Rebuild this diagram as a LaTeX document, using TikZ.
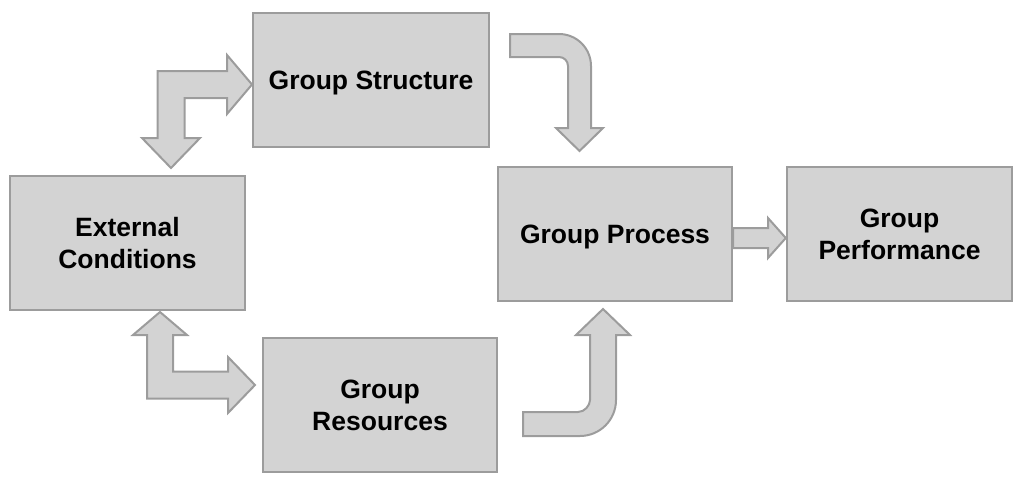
\documentclass[tikz,border=0pt]{standalone}
\usepackage{fontspec}
\setmainfont{Liberation Sans}
\usetikzlibrary{calc}
\definecolor{boxfill}{HTML}{D3D3D3}
\definecolor{boxline}{HTML}{9C9C9C}
\begin{document}
\begin{tikzpicture}[x=1pt,y=-1pt,
  blockbox/.style={draw=boxline,fill=boxfill,line width=2.4pt,rectangle,minimum height=134pt,
    align=center,inner sep=0pt,font=\fontsize{26.5}{32}\selectfont\bfseries},
  oneline/.style={text depth=0pt},
  blockarrow/.style={draw=boxline,fill=boxfill,line width=2pt,line join=miter}]
\useasboundingbox (0,0) rectangle (1019,479);
\node[blockbox,oneline,minimum width=236pt] (gs) at (371,80) {Group Structure};
\node[blockbox,minimum width=235pt] (ec) at (127.5,243) {External\\Conditions};
\node[blockbox,oneline,minimum width=234pt] (gp) at (615,234) {Group Process};
\node[blockbox,minimum width=225pt] (gperf) at (899.5,234) {Group\\Performance};
\node[blockbox,minimum width=234pt] (gr) at (380,405) {Group\\Resources};
% EC <-> GS
\draw[blockarrow] (252,84.5) -- (227,114) -- (227,98) -- (184.5,98) -- (184.5,138) -- (200,138)
  -- (171,168) -- (142,138) -- (157.5,138) -- (157.5,71) -- (227,71) -- (227,55) -- cycle;
% EC <-> GR
\draw[blockarrow] (160,312) -- (187,335) -- (173,335) -- (173,371.5) -- (228,371.5) -- (228,357)
  -- (255,385) -- (228,413) -- (228,398.5) -- (147,398.5) -- (147,335) -- (133,335) -- cycle;
% GS -> GP
\draw[blockarrow] (510,34) -- (559,34) .. controls (576.7,34) and (591,48.3) .. (591,66) -- (591,128)
  -- (603,128) -- (579.5,151) -- (556,128) -- (568,128) -- (568,66)
  .. controls (568,61) and (564,57) .. (559,57) -- (510,57) -- cycle;
% GR -> GP
\draw[blockarrow] (523,412) -- (578,412) .. controls (584.6,412) and (590,405.4) .. (590,400)
  -- (590,335) -- (576,335) -- (603,309) -- (630,335) -- (616,335) -- (616,400)
  .. controls (616,419.9) and (599.9,436) .. (580,436) -- (523,436) -- cycle;
% GP -> GPerf
\draw[blockarrow] ($(gp.east)+(0,-6)$) -- (768,228) -- (768,218) -- ($(gperf.west)+(0,4)$) -- (768,258)
  -- (768,248) -- ($(gp.east)+(0,14)$) -- cycle;
\end{tikzpicture}
\end{document}
